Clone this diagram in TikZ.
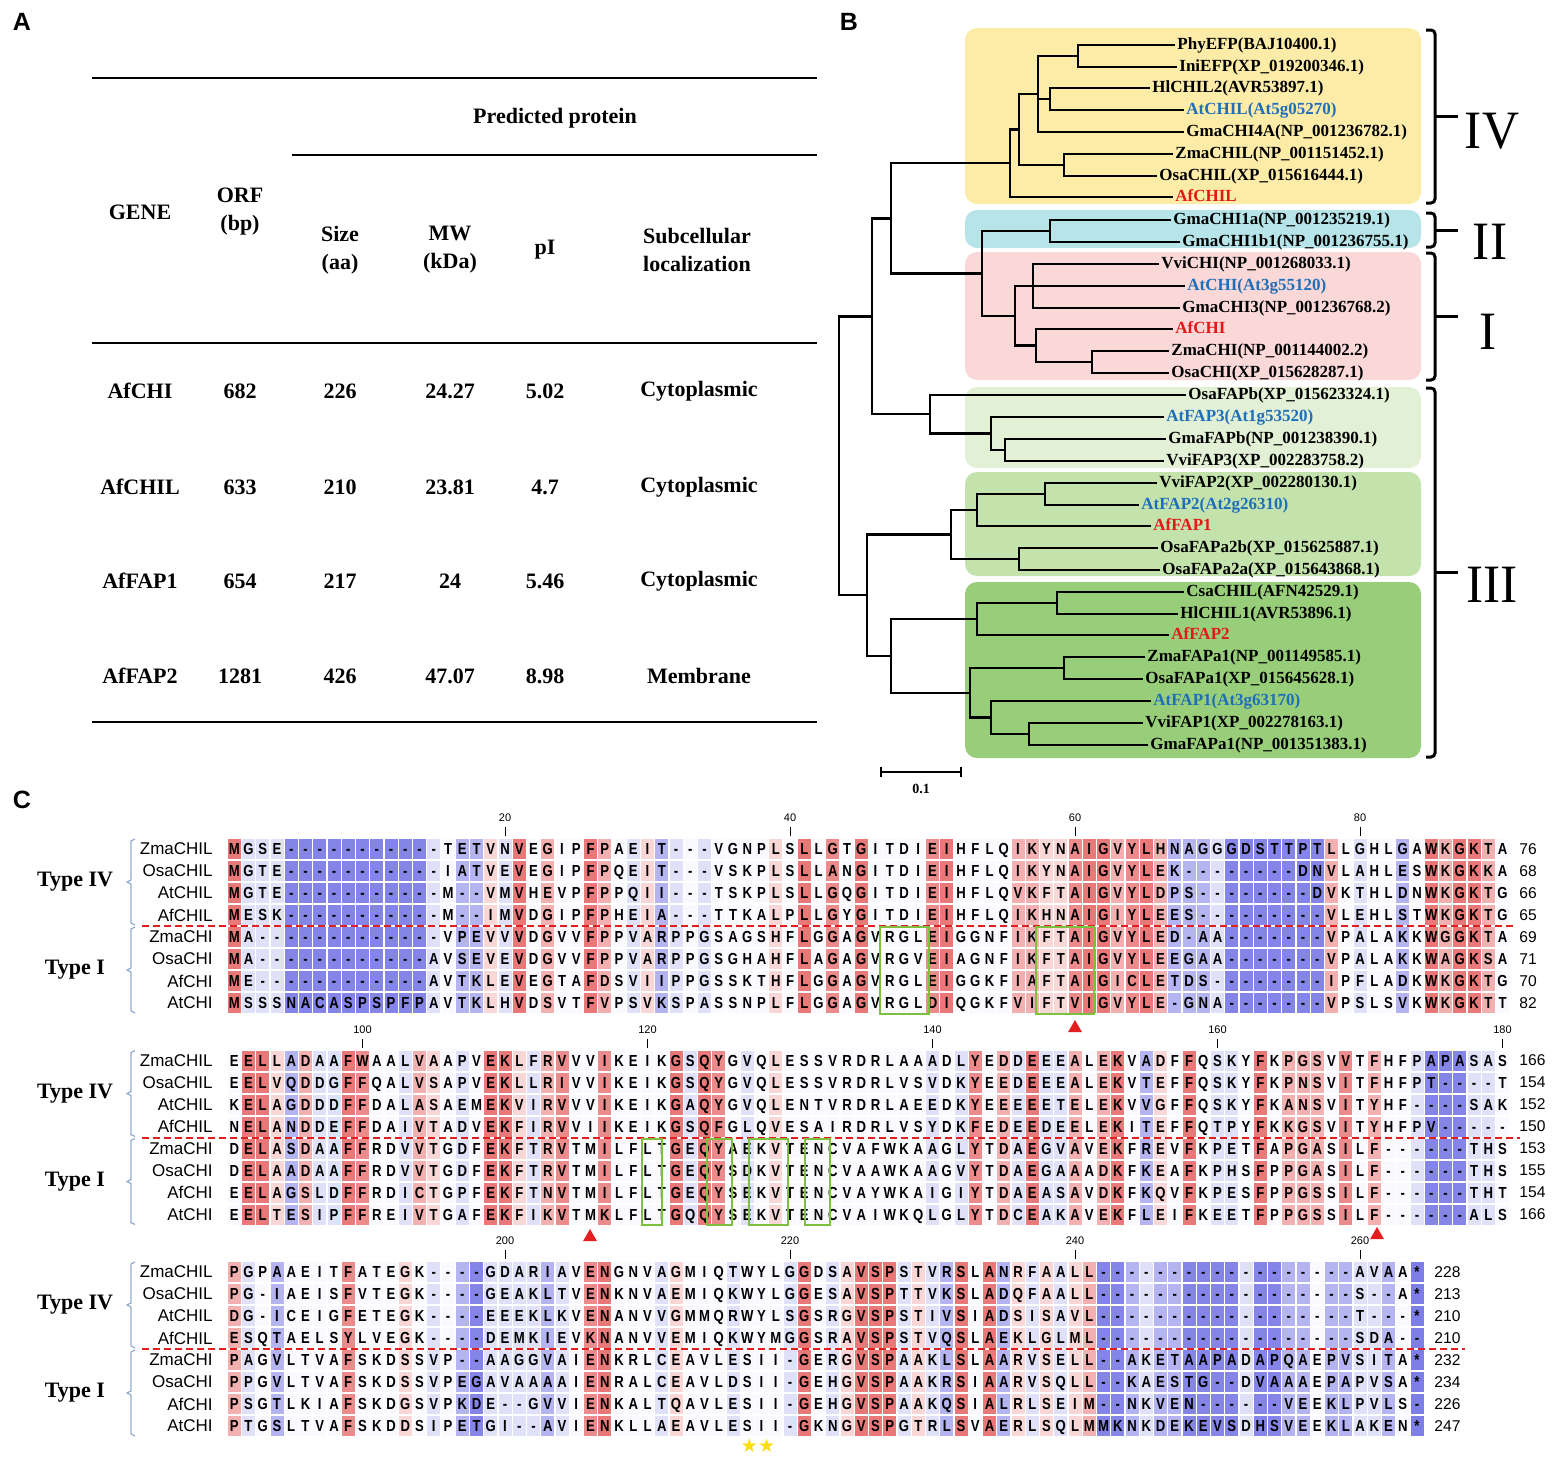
\documentclass[tikz,border=0pt]{standalone}
\usepackage{fontspec}
\setmainfont{Liberation Serif}
\setsansfont{Liberation Sans}
\newfontfamily\alnfont[FakeStretch=0.82]{Liberation Sans}
\newfontfamily\romfont[FakeStretch=0.95]{Liberation Serif}
\newfontfamily\symfont{DejaVu Sans}
\usetikzlibrary{positioning,shapes.geometric}
%
% Colours
\definecolor{tipblue}{RGB}{30,110,185}
\definecolor{tipred}{RGB}{225,25,25}
\definecolor{boxIV}{RGB}{252,236,168}
\definecolor{boxII}{RGB}{182,228,232}
\definecolor{boxI}{RGB}{250,216,216}
\definecolor{boxIIIa}{RGB}{226,240,214}
\definecolor{boxIIIb}{RGB}{196,227,172}
\definecolor{boxIIIc}{RGB}{152,206,122}
\definecolor{brkblue}{RGB}{150,172,208}
\definecolor{motif}{RGB}{125,192,62}
\definecolor{sepred}{RGB}{226,30,30}
\definecolor{starye}{RGB}{250,222,10}
\definecolor{consred}{RGB}{228,90,90}
\definecolor{consblue}{RGB}{98,98,226}
\colorlet{cons0}{consblue!82}
\colorlet{cons1}{consblue!78}
\colorlet{cons2}{consblue!48}
\colorlet{cons3}{consblue!20}
\colorlet{cons4}{consblue!4}
\colorlet{cons5}{consred!24}
\colorlet{cons6}{consred!48}
\colorlet{cons7}{consred!70}
\colorlet{cons8}{consred!82}
%
% Sequences: one macro per residue, s<row>-<column>
\newcount\colid
\def\splitseq#1#2#3#4{\def\rowid{#1}\colid=#2\relax\advance\colid-1
  \splitloop#4\relax
  \ifnum\colid=#3\else\errmessage{row #1 ends at \the\colid, not #3}\fi}
\def\splitloop#1{\ifx#1\relax\else\advance\colid1
  \expandafter\gdef\csname s\rowid-\the\colid\endcsname{#1}%
  \expandafter\splitloop\fi}
%
\splitseq{1}{1}{90}{MGSE-----------TETVNVEGIPFPAEIT---VGNPLSLLGTGITDIEIHFLQIKYNAIGVYLHNAGGGDSTTPTLLGHLGAWKGKTA}
\splitseq{2}{1}{90}{MGTE-----------IATVEVEGIPFPQEIT---VSKPLSLLANGITDIEIHFLQIKYNAIGVYLEK--------DNVLAHLESWKGKKA}
\splitseq{3}{1}{90}{MGTE-----------M--VMVHEVPFPPQII---TSKPLSLLGQGITDIEIHFLQVKFTAIGVYLDPS--------DVKTHLDNWKGKTG}
\splitseq{4}{1}{90}{MESK-----------M--IMVDGIPFPHEIA---TTKALPLLGYGITDIEIHFLQIKHNAIGIYLEES---------VLEHLSTWKGKTG}
\splitseq{5}{1}{90}{MA-------------VPEVVVDGVVFPPVARPPGSAGSHFLGGAGVRGLEIGGNFIKFTAIGVYLED-AA-------VPALAKKWGGKTA}
\splitseq{6}{1}{90}{MA------------AVSEVEVDGVVFPPVARPPGSGHAHFLAGAGVRGVEIAGNFIKFTAIGVYLEEGAA-------VPALAKKWAGKSA}
\splitseq{7}{1}{90}{ME------------AVTKLEVEGTAFDSVIIPPGSSKTHFLGGAGVRGLEIGGKFIAFTAIGICLETDS--------IPFLADKWKGKTG}
\splitseq{8}{1}{90}{MSSSNACASPSPFPAVTKLHVDSVTFVPSVKSPASSNPLFLGGAGVRGLDIQGKFVIFTVIGVYLE-GNA-------VPSLSVKWKGKTT}
%
\splitseq{1}{91}{180}{EELLADAAFWAALVAAPVEKLFRVVVIKEIKGSQYGVQLESSVRDRLAAADLYEDDEEEALEKVADFFQSKYFKPGSVVTFHFPAPASAS}
\splitseq{2}{91}{180}{EELVQDDGFFQALVSAPVEKLLRIVVIKEIKGSQYGVQLESSVRDRLVSVDKYEEDEEEALEKVTEFFQSKYFKPNSVITFHFPT----T}
\splitseq{3}{91}{180}{KELAGDDDFFDALASAEMEKVIRVVVIKEIKGAQYGVQLENTVRDRLAEEDKYEEEEETELEKVVGFFQSKYFKANSVITYHF----SAK}
\splitseq{4}{91}{180}{NELANDDEFFDAIVTADVEKFIRVVIIKEIKGSQFGLQVESAIRDRLVSYDKFEDEEDEELEKITEFFQTPYFKKGSVITYHFPV-----}
\splitseq{5}{91}{180}{DELASDAAFFRDVVTGDFEKFTRVTMILFLTGEQYAEKVTENCVAFWKAAGLYTDAEGVAVEKFREVFKPETFAPGASILF------THS}
\splitseq{6}{91}{180}{DELAADAAFFRDVVTGDFEKFTRVTMILFLTGEQYSDKVTENCVAAWKAAGVYTDAEGAAADKFKEAFKPHSFPPGASILF------THS}
\splitseq{7}{91}{180}{EELAGSLDFFRDICTGPFEKFTNVTMILFLTGEQYSEKVTENCVAYWKAIGIYTDAEASAVDKFKQVFKPESFPPGSSILF------THT}
\splitseq{8}{91}{180}{EELTESIPFFREIVTGAFEKFIKVTMKLFLTGQQYSEKVTENCVAIWKQLGLYTDCEAKAVEKFLEIFKEETFPPGSSILF------ALS}
%
\splitseq{1}{181}{264}{PGPAAEITFATEGK----GDARIAVENGNVAGMIQTWYLGGDSAVSPSTVRSLANRFAALL------------------AVAA*}
\splitseq{2}{181}{264}{PG-IAEISFVTEGK----GEAKLTVENKNVAEMIQKWYLGGESAVSPTTVKSLADQFAALL------------------S--A*}
\splitseq{3}{181}{264}{DG-ICEIGFETEGK----EEEKLKVENANVVGMMQRWYLSGSRGVSPSTIVSIADSISAVL------------------T---*}
\splitseq{4}{181}{264}{ESQTAELSYLVEGK----DEMKIEVKNANVVEMIQKWYMGGSRAVSPSTVQSLAEKLGLML------------------SDA--}
\splitseq{5}{181}{264}{PAGVLTVAFSKDSSVP--AAGGVAIENKRLCEAVLESII-GERGVSPAAKLSLAARVSELL--AKETAAPADAPQAEPVSITA*}
\splitseq{6}{181}{264}{PPGVLTVAFSKDSSVPEGAVAAAAIENRALCEAVLDSII-GEHGVSPAAKRSIAARVSQLL--KAESTG--DVAAAEPAPVSA*}
\splitseq{7}{181}{264}{PSGTLKIAFSKDGSVPKDE--GVVIENKALTQAVLESII-GEHGVSPAAKQSIALRLSEIM--NKVEN------VEEKLPVLS-}
\splitseq{8}{181}{264}{PTGSLTVAFSKDDSIPETGI--AVIENKLLAEAVLESII-GKNGVSPGTRLSVAERLSQLMMKNKDEKEVSDHSVEEKLAKEN*}
%
% Conservation: largest number of identical residues in a column
\newcount\nmax \newcount\ncur
\def\gapch{-}\def\stopch{*}
\foreach \kc in {1,...,264}{%
  \global\nmax=0
  \foreach \ri in {1,...,8}{%
    \expandafter\let\expandafter\ca\csname s\ri-\kc\endcsname
    \ifx\ca\gapch\else\ifx\ca\stopch\else
      \global\ncur=0
      \foreach \rj in {1,...,8}{%
        \expandafter\let\expandafter\cb\csname s\rj-\kc\endcsname
        \ifx\ca\cb\global\advance\ncur1 \fi}%
      \ifnum\ncur>\nmax\global\nmax=\ncur\fi
    \fi\fi}%
  \expandafter\xdef\csname k-\kc\endcsname{\the\nmax}}
%
\tikzset{
  panel/.style={font=\sffamily\bfseries\fontsize{12.5}{14}\selectfont, inner sep=0pt},
  tab/.style={font=\bfseries\fontsize{11}{14}\selectfont, align=center, inner sep=1pt},
  tabrule/.style={line width=0.8pt},
  leaf/.style={anchor=west, inner xsep=1pt, inner ysep=0pt, text height=6pt, text depth=1.8pt,
    font=\bfseries\fontsize{8.5}{9}\selectfont},
  branch/.style={line width=1.2pt},
  clbrk/.style={line width=1.5pt, rounded corners=2pt},
  rom/.style={font=\romfont\fontsize{27}{30}\selectfont, inner sep=0pt},
  scalelab/.style={font=\bfseries\fontsize{7}{8}\selectfont, inner sep=0pt},
  cell/.style={minimum width=6.5pt, minimum height=10pt, inner sep=0pt, text height=5.75pt,
    text depth=0pt, font=\alnfont\bfseries\fontsize{8}{9}\selectfont},
  posn/.style={font=\sffamily\fontsize{5.5}{6}\selectfont, inner sep=0.5pt},
  seqname/.style={anchor=east, inner sep=0pt, font=\sffamily\fontsize{8.5}{9}\selectfont},
  seqlen/.style={anchor=west, inner sep=0pt, font=\sffamily\fontsize{7.8}{8}\selectfont},
  typelab/.style={font=\bfseries\fontsize{11}{12}\selectfont, inner sep=0pt},
  typebrk/.style={draw=brkblue, line width=0.6pt},
  sepline/.style={draw=sepred, line width=1pt, dash pattern=on 3.5pt off 2pt},
  motifbox/.style={draw=motif, line width=1.2pt},
  tri/.style={regular polygon, regular polygon sides=3, minimum size=8pt, inner sep=0pt, fill=sepred},
  starlab/.style={font=\symfont\fontsize{9.5}{10}\selectfont, text=starye, inner sep=0pt}
}
\begin{document}
\begin{tikzpicture}[x=0.5pt,y=-0.5pt]
\useasboundingbox (0,0) rectangle (1562,1458);
\fill[white] (0,0) rectangle (1562,1458);
%
% Panel letters
\node[panel] (pA) at (22,22) {A};
\node[panel] (pB) at (849,22) {B};
\node[panel] (pC) at (22,800) {C};
%
% A: table
\draw[tabrule] (92,78) -- (817,78);
\draw[tabrule] (292,155) -- (817,155);
\draw[tabrule] (92,343) -- (817,343);
\draw[tabrule] (92,722) -- (817,722);
\node[tab] (hpp) at (555,118) {Predicted protein};
\node[tab] (hgene) at (140,212) {GENE};
\node[tab] (horf) at (240,212) {ORF\\(bp)};
\node[tab] (hsize) at (340,250) {Size\\(aa)};
\node[tab] (hmw) at (450,250) {MW\\(kDa)};
\node[tab] (hpi) at (545,250) {pI};
\node[tab] (hloc) at (697,250) {Subcellular\\localization};
\foreach \n/\g/\orf/\sz/\mw/\pval/\loc/\y in {1/AfCHI/682/226/24.27/5.02/Cytoplasmic/391,
    2/AfCHIL/633/210/23.81/4.7/Cytoplasmic/487, 3/AfFAP1/654/217/24/5.46/Cytoplasmic/581,
    4/AfFAP2/1281/426/47.07/8.98/Membrane/676}{
  \node[tab] (gene\n) at (140,\y) {\g};
  \node[tab] (orf\n) at (240,\y) {\orf};
  \node[tab] (size\n) at (340,\y) {\sz};
  \node[tab] (mw\n) at (450,\y) {\mw};
  \node[tab] (pi\n) at (545,\y) {\pval};
  \node[tab] (loc\n) at (699,\y) {\loc};
}
%
% B: clade boxes
\fill[boxIV, rounded corners=6pt] (965,28) rectangle (1421,204);
\fill[boxII, rounded corners=6pt] (965,210) rectangle (1421,248);
\fill[boxI, rounded corners=6pt] (965,252) rectangle (1421,380);
\fill[boxIIIa, rounded corners=6pt] (965,387) rectangle (1421,468);
\fill[boxIIIb, rounded corners=6pt] (965,472) rectangle (1421,576);
\fill[boxIIIc, rounded corners=6pt] (965,582) rectangle (1421,758);
%
% B: inner nodes of the tree
\coordinate (efp) at (1078,56);
\coordinate (hl) at (1050,99);
\coordinate (d4) at (1038,94);
\coordinate (zo4) at (1064,165);
\coordinate (c4) at (1019,129.5);
\coordinate (cIV) at (1010,163.25);
\coordinate (cII) at (1050,231);
\coordinate (j1) at (1033,286);
\coordinate (zo1) at (1092,362);
\coordinate (k1) at (1036,345.5);
\coordinate (cI) at (1015,315.75);
\coordinate (h) at (982,273.4);
\coordinate (b) at (891,218.3);
\coordinate (fb2) at (1005,450);
\coordinate (fb1) at (991,433.5);
\coordinate (fb) at (930,414.25);
\coordinate (a) at (872,316.3);
\coordinate (v12) at (1045,494);
\coordinate (s1) at (977,510);
\coordinate (o2) at (1019,559);
\coordinate (f1) at (951,534.5);
\coordinate (ch) at (1057,603);
\coordinate (f2) at (977,619);
\coordinate (zo3) at (1064,668);
\coordinate (vg) at (1029,734);
\coordinate (z3) at (991,717.5);
\coordinate (w3) at (970,692.75);
\coordinate (f3) at (891,655.9);
\coordinate (fap) at (867,595.2);
\coordinate (root) at (839,455.75);
\foreach \up/\dn in {d4/efp, d4/hl, c4/d4, c4/zo4, cIV/c4, b/cIV, b/h, h/cII, h/cI, cI/j1,
    cI/k1, k1/zo1, a/b, a/fb, fb/fb1, fb1/fb2, root/a, root/fap, fap/f1, fap/f3, f1/s1,
    f1/o2, s1/v12, f3/f2, f3/w3, f2/ch, w3/zo3, w3/z3, z3/vg}
  \draw[branch] (\up) |- (\dn);
%
% B: leaves
\foreach \n/\lab/\y/\x/\col/\up in {
    1/PhyEFP(BAJ10400.1)/45/1175/black/efp,
    2/IniEFP(XP\_019200346.1)/67/1177/black/efp,
    3/HlCHIL2(AVR53897.1)/88/1150/black/hl,
    4/AtCHIL(At5g05270)/110/1184/tipblue/hl,
    5/GmaCHI4A(NP\_001236782.1)/132/1184/black/d4,
    6/ZmaCHIL(NP\_001151452.1)/154/1173/black/zo4,
    7/OsaCHIL(XP\_015616444.1)/176/1157/black/zo4,
    8/AfCHIL/197/1173/tipred/cIV,
    9/GmaCHI1a(NP\_001235219.1)/220/1171/black/cII,
    10/GmaCHI1b1(NP\_001236755.1)/242/1180/black/cII,
    11/VviCHI(NP\_001268033.1)/264/1159/black/j1,
    12/AtCHI(At3g55120)/286/1185/tipblue/j1,
    13/GmaCHI3(NP\_001236768.2)/308/1180/black/j1,
    14/AfCHI/329/1173/tipred/k1,
    15/ZmaCHI(NP\_001144002.2)/351/1169/black/zo1,
    16/OsaCHI(XP\_015628287.1)/373/1169/black/zo1,
    17/OsaFAPb(XP\_015623324.1)/395/1186/black/fb,
    18/AtFAP3(At1g53520)/417/1164/tipblue/fb1,
    19/GmaFAPb(NP\_001238390.1)/439/1166/black/fb2,
    20/VviFAP3(XP\_002283758.2)/461/1164/black/fb2,
    21/VviFAP2(XP\_002280130.1)/483/1157/black/v12,
    22/AtFAP2(At2g26310)/505/1139/tipblue/v12,
    23/AfFAP1/526/1151/tipred/s1,
    24/OsaFAPa2b(XP\_015625887.1)/548/1158/black/o2,
    25/OsaFAPa2a(XP\_015643868.1)/570/1160/black/o2,
    26/CsaCHIL(AFN42529.1)/592/1184/black/ch,
    27/HlCHIL1(AVR53896.1)/614/1178/black/ch,
    28/AfFAP2/635/1169/tipred/f2,
    29/ZmaFAPa1(NP\_001149585.1)/657/1145/black/zo3,
    30/OsaFAPa1(XP\_015645628.1)/679/1143/black/zo3,
    31/AtFAP1(At3g63170)/701/1151/tipblue/z3,
    32/VviFAP1(XP\_002278163.1)/723/1143/black/vg,
    33/GmaFAPa1(NP\_001351383.1)/745/1148/black/vg}{
  \node[leaf, text=\col] (l\n) at (\x,\y) {\lab};
  \draw[branch] (\up) |- (l\n.west);
}
%
% B: groups
\draw[clbrk] (1426,30) -- (1435,30) -- (1435,203) -- (1426,203);
\draw[clbrk] (1426,213) -- (1435,213) -- (1435,247) -- (1426,247);
\draw[clbrk] (1426,253) -- (1435,253) -- (1435,380) -- (1426,380);
\draw[clbrk] (1426,388) -- (1435,388) -- (1435,757) -- (1426,757);
\foreach \y in {116.5,230,316.5,572} \draw[line width=1.5pt] (1435,\y) -- (1458,\y);
\node[rom] (rIV) at (1492,131) {IV};
\node[rom] (rII) at (1490,242) {II};
\node[rom] (rI) at (1488,332) {I};
\node[rom] (rIII) at (1492,585) {III};
%
% B: scale bar
\coordinate (sb1) at (881,772);
\coordinate (sb2) at (961,772);
\coordinate (sbm) at (921,772);
\draw[line width=1pt] (sb1) -- (sb2);
\draw[line width=1pt] (sb1) ++(0,-5) -- ++(0,10);
\draw[line width=1pt] (sb2) ++(0,-5) -- ++(0,10);
\node[scalelab, below=6pt of sbm] (sbl) {0.1};
%
% C: coloured residues
\foreach \yb/\cs/\ce in {849/1/90, 1060.5/91/180, 1272/181/264}{
  \foreach \rw in {1,...,8}{
    \foreach \kc in {\cs,...,\ce}{
      \edef\cfill{cons\csname k-\kc\endcsname}
      \node[cell, fill=\cfill] (s\rw-\kc) at ({234.25+(\kc-\cs)*14.25},{\yb+(\rw-1)*22})
        {\csname s\rw-\kc\endcsname};
    }
  }
}
%
% C: positions
\foreach \yb/\cs/\tks in {849/1/{20,40,60,80}, 1060.5/91/{100,120,140,160,180},
    1272/181/{200,220,240,260}}{
  \foreach \tk in \tks{
    \node[posn] (pos\tk) at ({234.25+(\tk-\cs)*14.25},{\yb-31}) {\tk};
    \draw[line width=0.5pt] (pos\tk.south) ++(0,4) -- ++(0,9);
  }
}
%
% C: names and lengths
\foreach \rw/\nm/\la/\lb/\lc in {1/ZmaCHIL/76/166/228, 2/OsaCHIL/68/154/213,
    3/AtCHIL/66/152/210, 4/AfCHIL/65/150/210, 5/ZmaCHI/69/153/232, 6/OsaCHI/71/155/234,
    7/AfCHI/70/154/226, 8/AtCHI/82/166/247}{
  \foreach \bk/\yb/\xl/\lenv in {1/849/1519/\la, 2/1060.5/1519/\lb, 3/1272/1434/\lc}{
    \node[seqname] (n\bk-\rw) at (213,{\yb+(\rw-1)*22}) {\nm};
    \node[seqlen] (e\bk-\rw) at (\xl,{\yb+(\rw-1)*22}) {\lenv};
  }
}
%
% C: types
\foreach \bk/\yb/\xe in {1/849/1515, 2/1060.5/1520, 3/1272/1465}{
  \node[typelab] (tIV\bk) at (75,{\yb+33}) {Type IV};
  \node[typelab] (tI\bk) at (75,{\yb+121}) {Type I};
  \draw[typebrk] (135,{\yb-10}) -- (131,{\yb-8}) -- (131,{\yb+31}) -- (127,{\yb+33})
    -- (131,{\yb+35}) -- (131,{\yb+74}) -- (135,{\yb+76});
  \draw[typebrk] (135,{\yb+78}) -- (131,{\yb+80}) -- (131,{\yb+119}) -- (127,{\yb+121})
    -- (131,{\yb+123}) -- (131,{\yb+162}) -- (135,{\yb+164});
  \draw[sepline] (142,{\yb+77}) -- (\xe,{\yb+77});
}
%
% C: motifs
\draw[motifbox] (880,927) rectangle (929,1014);
\draw[motifbox] (1036,927) rectangle (1094,1014);
\foreach \xa/\xb in {642/662, 707/732, 749/788, 805/830}
  \draw[motifbox] (\xa,1139) rectangle (\xb,1225);
\node[tri] (m1) at (1075,1028) {};
\node[tri] (m2) at (590,1237) {};
\node[tri] (m3) at (1377,1235) {};
\node[starlab] (st) at (758,1446) {★★};
%
\end{tikzpicture}
\end{document}
